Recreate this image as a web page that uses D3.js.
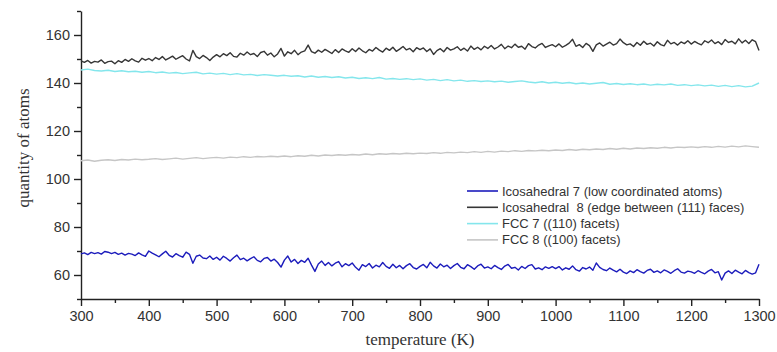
<!DOCTYPE html>
<html>
<head>
<meta charset="utf-8">
<script src="https://cdn.jsdelivr.net/npm/d3@7"></script>
<style>
  body { margin: 0; background: #fff; }
  .axis text { font-family: "Liberation Sans", Arial, sans-serif; font-size: 14.5px; fill: #333; }
  .axis path, .axis line { stroke: #222; stroke-width: 1.4px; }
  .title { font-family: "Liberation Serif", "Times New Roman", serif; font-size: 17px; fill: #333; }
  .legend text { font-family: "Liberation Sans", Arial, sans-serif; font-size: 13px; fill: #333; white-space: pre; }
  .line { fill: none; stroke-width: 1.4px; stroke-linejoin: round; }
</style>
</head>
<body>
<div id="chart"></div>
<script>
// temperature grids (K)
var tempsFine = d3.range(300, 1301, 5);
var tempsCoarse = d3.range(300, 1301, 10);

var xTicks = [300, 400, 500, 600, 700, 800, 900, 1000, 1100, 1200, 1300];
var yTicks = [60, 80, 100, 120, 140, 160];

var seriesNames = [
  "Icosahedral 7 (low coordinated atoms)",
  "Icosahedral  8 (edge between (111) faces)",
  "FCC 7 ((110) facets)",
  "FCC 8 ((100) facets)"
];
var seriesColors = ["#1c1cbc", "#363636", "#84e6ec", "#c6c6c6"];

// Icosahedral 7, every 5 K
var ico7 = [
  68.8,69.2,68.5,69.4,68.9,69.3,68.7,69.8,69.5,68.9,69.4,68.6,69.1,68.3,69.0,68.7,68.1,69.2,68.4,67.8,
  70.0,69.1,68.4,67.6,68.8,69.9,68.2,67.5,68.9,68.1,67.4,69.5,68.6,64.9,67.8,68.3,67.1,66.8,67.9,66.5,
  67.4,66.2,67.8,66.9,65.8,67.2,68.3,66.4,67.0,65.9,66.8,67.6,66.1,65.5,66.9,67.3,65.8,66.6,65.2,63.3,
  66.2,67.9,65.4,66.5,64.8,66.1,65.3,67.0,64.1,61.5,64.6,65.8,64.0,65.2,63.8,64.9,65.6,63.4,64.7,63.9,
  65.0,63.2,62.0,64.3,63.5,64.8,62.9,64.1,63.4,65.2,63.6,62.8,64.5,63.0,64.0,62.6,63.9,64.7,63.1,62.5,
  63.6,64.4,63.0,65.3,63.8,62.9,64.6,63.4,64.1,62.7,63.9,64.8,63.2,62.6,64.3,63.5,62.4,63.8,64.5,62.9,
  63.4,62.6,64.0,63.1,62.3,63.7,64.4,62.8,63.2,62.1,63.6,62.7,63.9,64.3,62.5,63.0,62.2,63.4,62.8,63.5,
  62.7,63.5,62.1,63.0,62.4,63.8,62.2,61.6,63.1,62.5,63.3,62.0,65.0,63.2,62.3,61.8,62.9,62.0,61.3,62.4,
  61.2,60.6,61.7,61.0,62.2,61.4,60.8,61.9,62.4,61.1,61.7,60.9,62.1,61.5,60.7,61.8,62.6,61.2,60.8,61.6,
  61.3,60.7,61.8,61.1,60.5,61.6,62.3,60.9,61.4,57.9,60.8,61.7,60.6,62.0,61.2,60.5,61.9,61.0,60.4,60.9,
  64.5
];

// Icosahedral 8, every 5 K
var ico8 = [
  149.2,148.6,149.4,148.3,149.0,148.7,149.6,148.2,148.9,149.1,148.0,149.3,148.6,149.8,149.0,150.1,149.2,148.7,150.3,149.5,
  150.2,149.3,150.6,149.8,151.0,149.6,150.4,151.2,149.9,150.7,151.4,150.0,149.2,153.6,151.0,150.2,151.5,150.6,149.4,150.8,
  151.8,150.9,152.2,151.4,152.6,151.1,150.8,152.4,151.6,152.9,151.8,152.3,151.0,152.7,153.2,151.6,152.5,150.9,152.1,154.4,
  151.2,153.0,152.2,153.6,151.8,152.9,153.4,155.8,153.1,152.4,153.7,152.8,154.0,153.2,152.3,153.9,152.7,154.2,153.4,152.8,
  154.3,153.1,154.6,153.4,152.6,154.0,153.3,154.8,153.7,152.9,154.5,153.6,154.9,153.2,154.1,155.2,153.8,154.4,153.0,154.7,
  153.9,154.6,153.1,154.2,151.9,153.5,154.3,153.0,154.8,153.7,154.2,155.1,153.6,154.5,153.3,155.4,154.0,154.9,153.8,155.3,
  154.4,155.6,154.2,155.0,156.1,154.3,155.4,154.7,156.2,154.9,155.3,154.1,156.4,155.2,154.6,155.8,156.5,154.8,155.5,156.0,
  155.1,156.3,154.9,155.7,156.6,158.2,155.3,156.0,154.8,156.5,155.6,153.2,155.9,156.7,155.4,156.2,157.0,155.8,156.4,158.3,
  156.8,155.9,156.3,155.2,156.9,155.7,157.4,156.1,156.6,155.4,157.2,156.0,155.5,157.8,156.3,156.9,155.8,157.1,156.4,157.6,
  156.2,157.3,156.5,155.9,157.6,156.8,157.9,156.4,157.2,156.0,158.1,156.9,157.4,156.3,158.4,156.7,157.8,156.5,158.0,157.2,
  153.5
];

// FCC 7, every 10 K
var fcc7 = [
  145.4,145.8,145.2,145.0,145.3,144.8,145.1,144.7,144.9,144.5,
  144.8,144.3,144.6,144.1,144.4,143.9,144.2,144.5,143.8,144.1,
  143.7,144.0,143.5,143.9,143.4,143.6,143.1,143.5,143.2,142.9,
  143.2,142.8,143.0,142.5,142.9,142.4,142.7,142.3,142.6,142.1,
  142.4,141.9,142.2,141.8,142.3,141.6,141.9,141.5,141.8,141.4,
  141.7,141.2,141.5,141.0,141.4,140.9,141.2,140.7,141.0,140.6,
  140.9,140.5,140.8,140.3,140.6,140.9,140.4,140.1,140.5,140.0,
  140.3,139.9,140.2,139.7,140.0,139.6,139.9,140.2,139.5,139.8,
  139.4,139.7,139.3,139.6,139.1,139.5,139.2,139.6,139.0,139.3,
  138.9,139.2,138.8,139.1,138.6,139.0,138.5,138.9,138.4,138.7,
  140.0
];

// FCC 8, every 10 K
var fcc8 = [
  107.6,107.9,107.4,107.8,108.0,107.7,108.1,107.9,108.3,108.0,
  108.2,108.5,108.1,108.4,108.7,108.3,108.6,108.9,108.5,108.8,
  109.0,108.7,109.1,108.9,109.3,109.0,109.4,109.2,109.5,109.3,
  109.6,109.3,109.7,109.5,109.9,109.6,110.0,109.8,110.1,109.9,
  110.2,110.0,110.4,110.1,110.5,110.3,110.6,110.4,110.7,110.5,
  110.8,110.6,111.0,110.7,111.1,110.9,111.2,111.0,111.4,111.1,
  111.5,111.2,111.6,111.4,111.8,111.5,111.9,111.7,112.0,111.8,
  112.1,111.9,112.3,112.0,112.4,112.2,112.5,112.3,112.7,112.4,
  112.8,112.5,112.9,112.7,113.0,112.8,113.2,112.9,113.3,113.1,
  113.4,113.1,113.5,113.2,113.6,113.3,113.7,113.4,113.8,113.5,
  113.2
];

var margin = {top: 11, right: 18, bottom: 53, left: 81},
    width = 777 - margin.left - margin.right,
    height = 352 - margin.top - margin.bottom;

var x = d3.scaleLinear().domain([300, 1300]).range([0, width]);
var y = d3.scaleLinear().domain([50, 170]).range([height, 0]);

var svg = d3.select("#chart").append("svg")
    .attr("width", 777)
    .attr("height", 352)
  .append("g")
    .attr("transform", "translate(" + margin.left + "," + margin.top + ")");

// minor ticks first, then major axes on top
svg.append("g")
    .attr("class", "x axis minor")
    .attr("transform", "translate(0," + height + ")")
    .call(d3.axisBottom(x).tickValues(d3.range(350, 1300, 100)).tickSize(4).tickFormat(""))
    .select(".domain").remove();

svg.append("g")
    .attr("class", "y axis minor")
    .call(d3.axisLeft(y).tickValues([50, 70, 90, 110, 130, 150, 170]).tickSize(4).tickFormat(""))
    .select(".domain").remove();

svg.append("g")
    .attr("class", "x axis")
    .attr("transform", "translate(0," + height + ")")
    .call(d3.axisBottom(x).tickValues(xTicks).tickFormat(d3.format("d"))
      .tickSize(7).tickSizeOuter(0).tickPadding(5));

svg.append("g")
    .attr("class", "y axis")
    .call(d3.axisLeft(y).tickValues(yTicks).tickFormat(d3.format("d"))
      .tickSize(7).tickSizeOuter(0).tickPadding(4));

svg.append("text")
    .attr("class", "title")
    .attr("x", width / 2)
    .attr("y", height + 46)
    .style("text-anchor", "middle")
    .text("temperature (K)");

svg.append("text")
    .attr("class", "title")
    .attr("transform", "rotate(-90)")
    .attr("x", -137)
    .attr("y", -52)
    .style("text-anchor", "middle")
    .text("quantity of atoms");

var series = [
  {temps: tempsCoarse, values: fcc8, i: 3},
  {temps: tempsCoarse, values: fcc7, i: 2},
  {temps: tempsFine, values: ico8, i: 1},
  {temps: tempsFine, values: ico7, i: 0}
];

var line = d3.line()
    .x(function(d) { return x(d[0]); })
    .y(function(d) { return y(d[1]); });

series.forEach(function(s) {
  svg.append("path")
      .datum(d3.zip(s.temps, s.values))
      .attr("class", "line")
      .attr("stroke", seriesColors[s.i])
      .attr("d", line);
});

var legend = svg.append("g")
    .attr("class", "legend")
    .attr("transform", "translate(" + (467 - margin.left) + "," + (191 - margin.top) + ")");

seriesNames.forEach(function(name, i) {
  var row = legend.append("g").attr("transform", "translate(0," + (i * 16.3) + ")");
  row.append("line")
      .attr("x1", 0).attr("x2", 31)
      .attr("stroke", seriesColors[i])
      .attr("stroke-width", 1.6);
  row.append("text")
      .attr("x", 35)
      .attr("dy", "0.35em")
      .text(name);
});
</script>
</body>
</html>
